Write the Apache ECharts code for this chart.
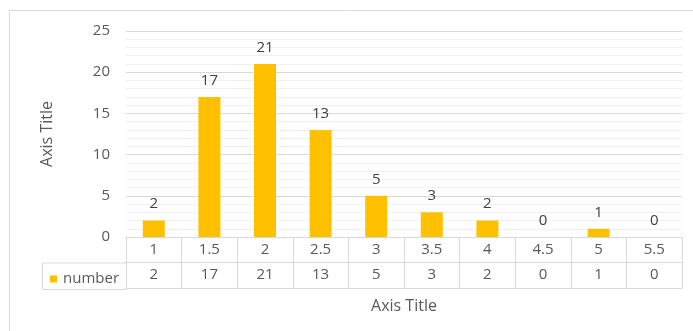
<!DOCTYPE html>
<html>
<head>
<meta charset="utf-8">
<style>
  html, body { margin: 0; padding: 0; background: #ffffff; }
  #chart { width: 693px; height: 331px; }
</style>
<script src="https://cdn.jsdelivr.net/npm/echarts@6/dist/echarts.min.js"></script>
</head>
<body>
<div id="chart"></div>
<script>
// Bin centres along the x axis and the count in each bin
const categories = ['1', '1.5', '2', '2.5', '3', '3.5', '4', '4.5', '5', '5.5'];
const counts = [2, 17, 21, 13, 5, 3, 2, 0, 1, 0];
const seriesName = 'number';
const yTicks = { min: 0, max: 25, interval: 5 };
const axisTitleX = 'Axis Title';
const axisTitleY = 'Axis Title';

const GOLD = '#FFC000';
const TEXT = '#595959';
const LINE = '#d9d9d9';
const FONT = '"Open Sans", "Noto Sans", Arial, sans-serif';
const LABEL_SIZE = 15;
const TITLE_SIZE = 16;

// Plot area and data-table layout
const gridLeft = 126, gridRight = 11, gridTop = 31, gridBottom = 94;
const rowH = 25.5;
const plotBottom = 331 - gridBottom;
const legendCellLeft = 42;

const chart = echarts.init(document.getElementById('chart'), null, { renderer: 'canvas' });

chart.setOption({
  animation: false,
  backgroundColor: '#ffffff',
  textStyle: { fontFamily: FONT },
  grid: { left: gridLeft, right: gridRight, top: gridTop, bottom: gridBottom, containLabel: false },
  legend: {
    data: [seriesName],
    left: legendCellLeft + 8,
    top: plotBottom + rowH + 9,
    itemWidth: 7,
    itemHeight: 7,
    itemGap: 0,
    icon: 'rect',
    padding: 0,
    textStyle: { color: TEXT, fontSize: LABEL_SIZE, fontFamily: FONT, padding: [0, 0, 0, 1] }
  },
  xAxis: [
    {
      // first table row: bin labels, with cell dividers as long ticks
      type: 'category',
      data: categories,
      position: 'bottom',
      axisLine: { show: true, lineStyle: { color: LINE, width: 1 } },
      axisTick: { show: true, length: rowH * 2, interval: 0, lineStyle: { color: LINE } },
      axisLabel: { color: TEXT, fontSize: LABEL_SIZE, margin: 5, interval: 0, fontFamily: FONT },
      splitLine: { show: false }
    },
    {
      // second table row: the counts
      type: 'category',
      data: categories,
      position: 'bottom',
      offset: rowH,
      axisLine: { show: true, lineStyle: { color: LINE, width: 1 } },
      axisTick: { show: false },
      axisLabel: {
        color: TEXT, fontSize: LABEL_SIZE, margin: 5, interval: 0, fontFamily: FONT,
        formatter: (v, i) => String(counts[i])
      }
    },
    {
      // bottom edge of the table and the horizontal axis title
      type: 'category',
      data: categories,
      position: 'bottom',
      offset: rowH * 2,
      axisLine: { show: true, lineStyle: { color: LINE, width: 1 } },
      axisTick: { show: false },
      axisLabel: { show: false },
      name: axisTitleX,
      nameLocation: 'middle',
      nameGap: 10,
      nameTextStyle: { color: TEXT, fontSize: TITLE_SIZE, fontFamily: FONT }
    }
  ],
  yAxis: {
    type: 'value',
    min: yTicks.min,
    max: yTicks.max,
    interval: yTicks.interval,
    axisLine: { show: false },
    axisTick: { show: false },
    axisLabel: { color: TEXT, fontSize: LABEL_SIZE, margin: 16, fontFamily: FONT },
    splitLine: { show: true, lineStyle: { color: LINE, width: 1 } },
    minorTick: { show: false, splitNumber: 5 },
    minorSplitLine: { show: true, lineStyle: { color: '#f0f0f0', width: 1 } },
    name: axisTitleY,
    nameLocation: 'middle',
    nameGap: 71,
    nameRotate: 90,
    nameTextStyle: { color: TEXT, fontSize: TITLE_SIZE, fontFamily: FONT }
  },
  series: [
    {
      name: seriesName,
      type: 'bar',
      xAxisIndex: 0,
      data: counts,
      barWidth: 22,
      itemStyle: { color: GOLD },
      label: {
        show: true,
        position: 'top',
        distance: 9,
        color: '#404040',
        fontSize: LABEL_SIZE,
        fontFamily: FONT
      }
    }
  ],
  graphic: [
    // outer chart border (continues past the window on the right and bottom)
    {
      type: 'rect', silent: true, z: -1,
      shape: { x: 9.5, y: 10.5, width: 720, height: 400 },
      style: { fill: 'none', stroke: '#d9d9d9', lineWidth: 1 }
    },
    // legend-key cell of the data table
    {
      type: 'rect', silent: true,
      shape: { x: legendCellLeft + 0.5, y: plotBottom + rowH + 0.5, width: gridLeft - legendCellLeft, height: rowH + 1 },
      style: { fill: 'none', stroke: LINE, lineWidth: 1 }
    }
  ]
});
</script>
</body>
</html>
